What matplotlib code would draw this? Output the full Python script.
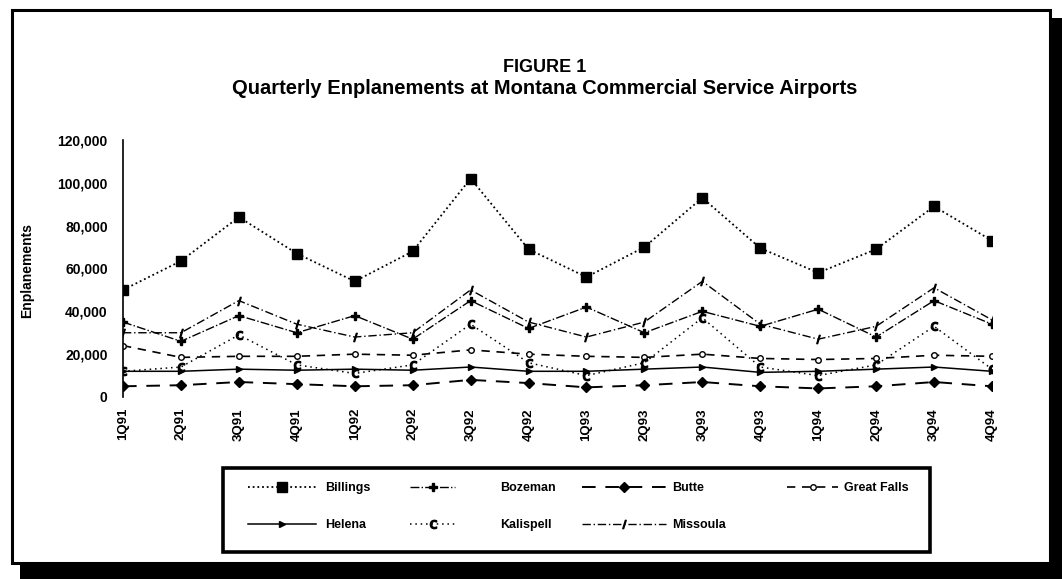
import matplotlib
matplotlib.use('Agg')
import matplotlib.pyplot as plt
from matplotlib.patches import Rectangle

plt.rcParams['font.family'] = ['Liberation Sans', 'DejaVu Sans']

# quarters shown on the x axis
quarters = ['1Q91', '2Q91', '3Q91', '4Q91', '1Q92', '2Q92', '3Q92', '4Q92',
            '1Q93', '2Q93', '3Q93', '4Q93', '1Q94', '2Q94', '3Q94', '4Q94']

# enplanements per airport (approximate)
billings = [50000, 63500, 84000, 67000, 54000, 68000, 102000, 69000,
            56000, 70000, 93000, 69500, 58000, 69000, 89000, 73000]
bozeman = [35000, 26000, 38000, 30000, 38000, 27000, 45000, 32000,
           42000, 30000, 40000, 33000, 41000, 28000, 45000, 34000]
butte = [5000, 5500, 7000, 6000, 5000, 5500, 8000, 6500,
         4500, 5500, 7000, 5000, 4000, 5000, 7000, 5000]
great_falls = [24000, 18500, 19000, 19000, 20000, 19500, 22000, 20000,
               19000, 18500, 20000, 18000, 17500, 18000, 19500, 19000]
helena = [12000, 12000, 13000, 12500, 13000, 12500, 14000, 12000,
          12000, 13000, 14000, 11500, 12000, 13000, 14000, 12000]
kalispell = [12000, 14000, 29000, 15000, 11000, 15000, 34000, 16000,
             10000, 16000, 37000, 14000, 10000, 15000, 33000, 13000]
missoula = [30000, 30000, 45000, 34000, 28000, 30000, 50000, 35000,
            28000, 35000, 54000, 34000, 27000, 33000, 51000, 36000]

y_ticks = [0, 20000, 40000, 60000, 80000, 100000, 120000]

W, H = 1062, 579
fig = plt.figure(figsize=(W / 100, H / 100), dpi=100)

# outer frame with drop shadow (behind the axes)
fig.patches.append(Rectangle((20 / W, 0), (W - 20) / W, 15 / H, transform=fig.transFigure,
                             facecolor='black', edgecolor='none', zorder=-3))
fig.patches.append(Rectangle((1050 / W, 0), 12 / W, (H - 18) / H, transform=fig.transFigure,
                             facecolor='black', edgecolor='none', zorder=-3))
fig.patches.append(Rectangle((12 / W, 16 / H), (1050 - 12) / W, (563 - 10) / H,
                             transform=fig.transFigure, facecolor='white',
                             edgecolor='black', linewidth=2.2, zorder=-2))

fig.text(545 / W, 1 - 68 / H, 'FIGURE 1', ha='center', va='center',
         fontsize=13, fontweight='bold')
fig.text(545 / W, 1 - 89 / H, 'Quarterly Enplanements at Montana Commercial Service Airports',
         ha='center', va='center', fontsize=14.5, fontweight='bold')

ax = fig.add_axes([123 / W, 1 - 397 / H, (992 - 123) / W, (397 - 140) / H])
x = list(range(len(quarters)))

ax.plot(x, billings, linestyle=(0, (1, 1.6)), color='black', lw=1.3,
        marker='s', markersize=7, label='Billings')
ax.plot(x, bozeman, linestyle='-.', color='black', lw=1.0,
        marker='P', markersize=6, label='Bozeman')
ax.plot(x, butte, linestyle=(0, (7, 5)), color='black', lw=1.4,
        marker='D', markersize=5, label='Butte')
ax.plot(x, great_falls, linestyle=(0, (5, 4)), color='black', lw=1.2,
        marker='o', markersize=4, markerfacecolor='white', label='Great Falls')
ax.plot(x, helena, linestyle='-', color='black', lw=1.1,
        marker='>', markersize=4, label='Helena')
ax.plot(x, kalispell, linestyle=(0, (1, 2.5)), color='black', lw=1.1,
        marker='$\\mathsf{c}$', markersize=6, label='Kalispell')
ax.plot(x, missoula, linestyle=(0, (6, 2, 1, 2)), color='black', lw=1.0,
        marker='$/$', markersize=6, label='Missoula')

ax.set_xlim(0, 15)
ax.set_ylim(0, 120000)
ax.set_xticks(x)
ax.set_xticklabels(quarters, rotation=90, fontsize=9.5, fontweight='bold')
ax.set_yticks(y_ticks)
ax.set_yticklabels([f'{v:,}' for v in y_ticks], fontsize=10, fontweight='bold')
ax.tick_params(axis='y', length=0, pad=11)
ax.tick_params(axis='x', length=0, pad=8)
for s in ax.spines.values():
    s.set_visible(False)
ax.spines['left'].set_visible(True)
ax.spines['left'].set_linewidth(1.2)
ax.set_ylabel('Enplanements', fontsize=10, fontweight='bold')
ax.yaxis.set_label_coords(-89 / (992 - 123), (397 - 271) / (397 - 140))

# legend: one small legend per column, boxed together
h, l = ax.get_legend_handles_labels()
hd = dict(zip(l, h))
columns = [(['Billings', 'Helena'], 248, 5.4, 0.8),
           (['Bozeman', 'Kalispell'], 410, 3.6, 3.6),
           (['Butte', 'Missoula'], 582, 6.7, 0.5),
           (['Great Falls'], 787, 4.1, 0.5)]
for names, x0, hl, tp in columns:
    leg = fig.legend([hd[n] for n in names], names, loc='upper left',
                     bbox_to_anchor=(x0 / W, 1 - 482 / H), frameon=False,
                     prop={'weight': 'bold', 'size': 9}, handlelength=hl,
                     handletextpad=tp, borderpad=0, borderaxespad=0,
                     labelspacing=2.0)
fig.patches.append(Rectangle((223 / W, 1 - 552 / H), (930 - 223) / W, (552 - 468) / H,
                             transform=fig.transFigure, facecolor='none',
                             edgecolor='black', linewidth=2.6))

plt.savefig('out.png', dpi=100)
plt.close()
